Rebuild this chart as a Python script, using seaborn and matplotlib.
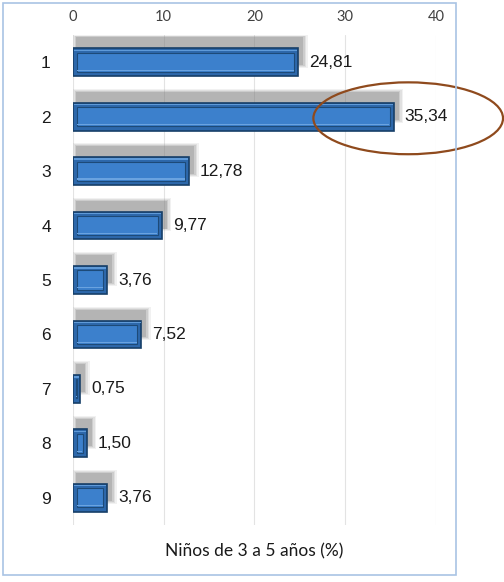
import numpy as np
import pandas as pd
import matplotlib
matplotlib.use("Agg")
import matplotlib.pyplot as plt
import matplotlib.patches as mpatches
import seaborn as sns

# Datos del grafico
grupos = ["1", "2", "3", "4", "5", "6", "7", "8", "9"]
porcentajes = [24.81, 35.34, 12.78, 9.77, 3.76, 7.52, 0.75, 1.50, 3.76]
etiquetas = ["24,81", "35,34", "12,78", "9,77", "3,76", "7,52", "0,75", "1,50", "3,76"]
ticks_x = [0, 10, 20, 30, 40]
titulo_x = "Niños de 3 a 5 años (%)"
destacado = 1  # indice de la barra rodeada por la elipse

sns.set_theme(style="white")
plt.rcParams['font.family'] = ['Liberation Sans', 'DejaVu Sans']

df = pd.DataFrame({"grupo": grupos, "valor": porcentajes})

fig = plt.figure(figsize=(5.04, 5.82), dpi=100)
ax = fig.add_axes([0.1448, 0.0979, 0.7202, 0.842])

pos = np.arange(len(grupos))
vals = np.array(porcentajes)
alto = 0.51

# sombra gris difusa detras de cada barra
for k, a in enumerate([0.10, 0.14, 0.20, 0.30]):
    grow = (3 - k) * 0.035
    ax.barh(pos - 0.2, vals + 0.5 + grow * 8 - 0.3, left=0.35 - grow * 3,
            height=alto + grow, color="#7f7f7f", alpha=a, linewidth=0, zorder=1)

# barra principal (marco del bisel)
sns.barplot(data=df, x="valor", y="grupo", orient="h", color="#2d68ab",
            edgecolor="#173f68", linewidth=1.2, width=alto, saturation=1,
            ax=ax, zorder=3)

# cara interior del bisel
inset = 0.42
izq = np.minimum(inset, vals / 2 - 0.025)
ancho_int = np.maximum(vals - 2 * inset, 0.05)
ax.barh(pos, ancho_int, left=izq, height=alto - 0.16,
        facecolor="#3c80cc", edgecolor="#1d4a78", linewidth=0.8, zorder=4)
# brillo en el borde superior del marco y en el borde inferior interior
ax.barh(pos - alto / 2 + 0.035, vals - 0.15, left=0.08, height=0.025,
        facecolor="#5f9ad8", edgecolor="none", zorder=4)
ax.barh(pos + (alto - 0.16) / 2 - 0.03, ancho_int - 0.1, left=izq + 0.05, height=0.02,
        facecolor="#6aa3e0", edgecolor="none", zorder=5)

# etiquetas de valor
for i, (v, t) in enumerate(zip(vals, etiquetas)):
    ax.annotate(t, xy=(v, i), xytext=(8, 0), textcoords="offset points",
                ha="left", va="center", fontsize=12.5, color="#1a1a1a", zorder=6)

# elipse de resaltado
e = mpatches.Ellipse((vals[destacado] + 1.6, destacado + 0.03), 20.9, 1.32,
                     fill=False, edgecolor="#8f4a1d", linewidth=1.6,
                     clip_on=False, zorder=7)
ax.add_patch(e)

ax.set_xlim(0, 40)
ax.set_ylim(len(grupos) - 0.5, -0.5)
ax.set_xticks(ticks_x)
ax.xaxis.tick_top()
ax.tick_params(axis="x", length=0, pad=8, labelsize=10.5, labelcolor="#404040")
ax.tick_params(axis="y", length=0, pad=16, labelsize=12.5, labelcolor="#1a1a1a")
for lab in ax.get_xticklabels():
    lab.set_family(["Lato", "DejaVu Sans"])
ax.set_xlabel("")
ax.set_ylabel("")
ax.grid(axis="x", color="#e3e3e3", linewidth=0.8, zorder=0)
ax.set_axisbelow(True)
for s in ax.spines.values():
    s.set_visible(False)

fig.text(0.505, 0.053, titulo_x, ha="center", va="center", fontsize=12.5,
         color="#1a1a1a", family=["Lato", "DejaVu Sans"])

# marco del area del grafico
marco = mpatches.Rectangle((3 / 504, 7 / 582), 453 / 504, 572 / 582,
                           transform=fig.transFigure, fill=False,
                           edgecolor="#a9c4e4", linewidth=1.2)
fig.patches.append(marco)

fig.savefig("out.png", dpi=100)
